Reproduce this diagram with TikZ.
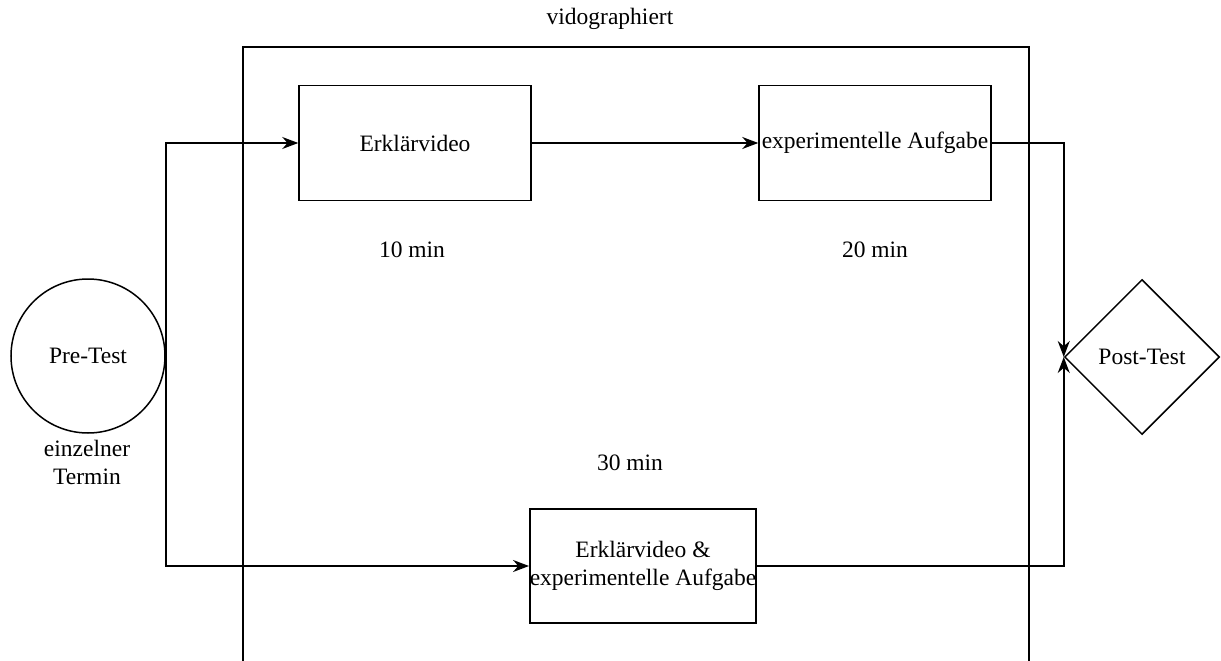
\documentclass[tikz,border=0pt]{standalone}
\usepackage{fontspec}
\setmainfont{Liberation Serif}
\usetikzlibrary{shapes.geometric,arrows.meta}

\begin{document}
\begin{tikzpicture}[x=1pt,y=-1pt,font=\fontsize{23.5}{28}\selectfont,
  line width=1.5pt,
  arr/.style={-{Stealth[length=16pt,width=12pt]}},
  box/.style={draw,minimum width=232pt,minimum height=115pt,inner sep=0pt}]
\useasboundingbox (0,0) rectangle (1221,661);
\draw (243,661) -- (243,47) -- (1029,47) -- (1029,661);
\node (title) at (610,19) {vidographiert};
\node[box] (video) at (415,143) {Erklärvideo};
\node[box] (task) at (875,143) {experimentelle Aufgabe};
\node[box,minimum width=226pt,minimum height=114pt,align=center] (both) at (643,566) {Erklärvideo \&\\experimentelle Aufgabe};
\node[draw,circle,minimum size=154pt,inner sep=0pt] (pre) at (88,356) {Pre-Test};
\node[draw,diamond,aspect=1,minimum size=155pt,inner sep=0pt] (post) at (1142,357) {Post-Test};
\node[align=center] (termin) at (87,462) {einzelner\\Termin};
\node (t10) at (412,250) {10 min};
\node (t20) at (875,250) {20 min};
\node (t30) at (630,463) {30 min};
\draw[arr] (pre.east) |- (video.west);
\draw[arr] (pre.east) |- (both.west);
\draw[arr] (video) -- (task);
\draw[arr] (task.east) -| (post.west);
\draw[arr] (both.east) -| (post.west);
\end{tikzpicture}
\end{document}
